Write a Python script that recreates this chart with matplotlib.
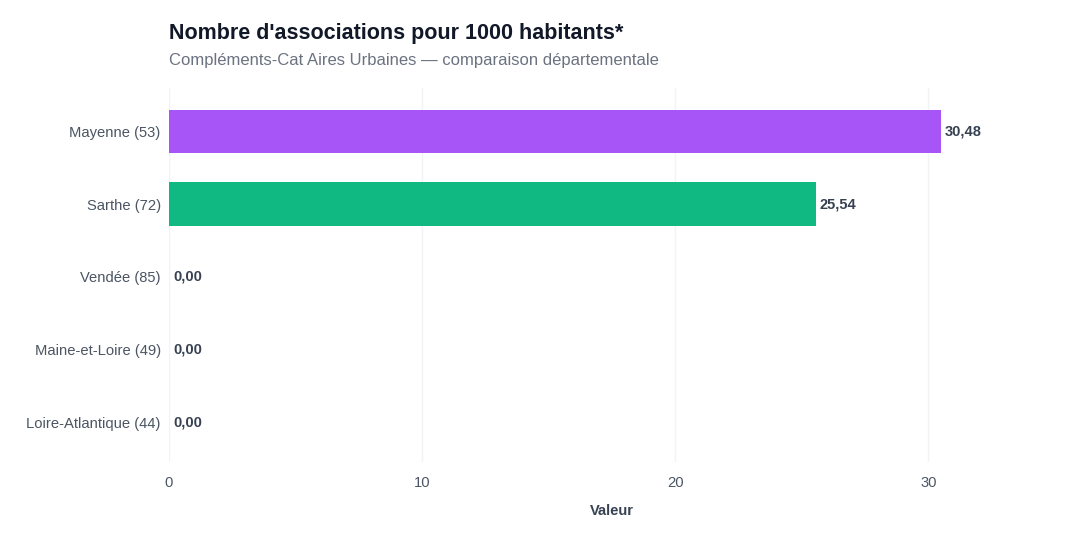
import matplotlib.pyplot as plt

plt.rcParams['font.family'] = ['Liberation Sans', 'DejaVu Sans']

departements = ['Mayenne (53)', 'Sarthe (72)', 'Vendée (85)',
                'Maine-et-Loire (49)', 'Loire-Atlantique (44)']
valeurs = [30.48, 25.54, 0.0, 0.0, 0.0]
couleurs = ['#a855f7', '#10b981', '#3b82f6', '#f59e0b', '#ef4444']

fig = plt.figure(figsize=(10.8, 5.4), dpi=100)
ax = fig.add_axes([169 / 1080, 1 - 462 / 540, (1055 - 169) / 1080, (462 - 88) / 540])

pos = list(range(len(departements)))
ax.barh(pos, valeurs, height=0.6, color=couleurs, zorder=2)
for p, v in zip(pos, valeurs):
    ax.text(v + 0.17, p, f'{v:.2f}'.replace('.', ','), va='center', ha='left',
            fontsize=10.5, fontweight='bold', color='#374151', zorder=3)

ax.set_xlim(0, 35)
ax.set_ylim(4.55, -0.6)
ax.set_yticks(pos)
ax.set_yticklabels(departements)
ax.set_xticks([0, 10, 20, 30])
ax.tick_params(axis='both', length=0, labelsize=10.6, colors='#4b5563')
ax.tick_params(axis='y', pad=6)
ax.tick_params(axis='x', pad=10)
ax.grid(axis='x', color='#f1f3f6', linewidth=1, zorder=0)
for s in ax.spines.values():
    s.set_visible(False)

ax.set_xlabel('Valeur', fontsize=10.5, fontweight='bold', color='#374151', labelpad=10)

fig.text(169 / 1080, 1 - 33 / 540, "Nombre d'associations pour 1000 habitants*",
         fontsize=15.5, fontweight='bold', color='#111827', va='center', ha='left')
fig.text(169 / 1080, 1 - 61 / 540, 'Compléments-Cat Aires Urbaines — comparaison départementale',
         fontsize=12, color='#6b7280', va='center', ha='left')

fig.savefig('out.png', dpi=100, facecolor='white')
